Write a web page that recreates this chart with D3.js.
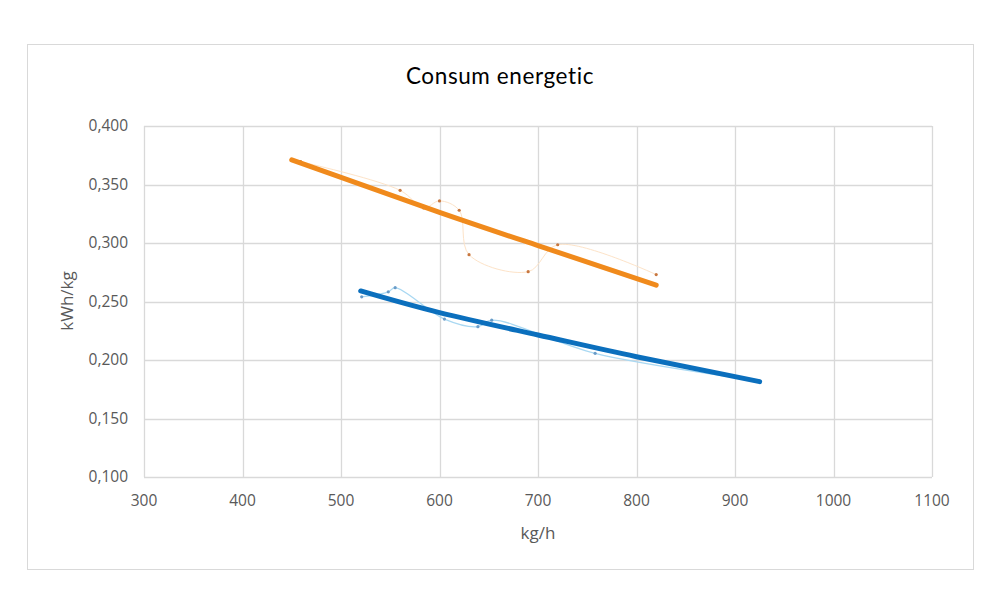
<!DOCTYPE html>
<html>
<head>
<meta charset="utf-8">
<script src="https://cdnjs.cloudflare.com/ajax/libs/d3/7.8.5/d3.min.js"></script>
<style>
    body { margin: 0; background: #fff; }
    svg text { font-family: "Open Sans", "Liberation Sans", sans-serif; }
</style>
</head>
<body>
<svg width="1000" height="614"></svg>
<script>
// measured points (kg/h, kWh/kg)
var orangeX = [450, 459, 560, 584, 600, 620, 630, 690, 720, 820];
var orangeY = [0.371, 0.3695, 0.345, 0.330, 0.336, 0.328, 0.290, 0.2755, 0.2985, 0.273];
var blueX = [521, 548, 555, 605, 639, 653, 758, 925];
var blueY = [0.254, 0.2583, 0.2618, 0.235, 0.2285, 0.234, 0.2057, 0.182];

// trend lines
var orangeTrendX = [450, 600, 700, 820];
var orangeTrendY = [0.371, 0.3262, 0.2978, 0.264];
var blueTrendX = [520, 600, 700, 800, 925];
var blueTrendY = [0.259, 0.2405, 0.2214, 0.2028, 0.1815];

var xTicks = [300, 400, 500, 600, 700, 800, 900, 1000, 1100];
var yTicks = [0.100, 0.150, 0.200, 0.250, 0.300, 0.350, 0.400];

var svg = d3.select("svg");
var plotLeft = 144, plotRight = 932, plotTop = 126, plotBottom = 477;

// chart frame
svg.append("rect")
    .attr("x", 27.5).attr("y", 44.5)
    .attr("width", 946).attr("height", 525)
    .attr("fill", "#fff")
    .attr("stroke", "#d9d9d9");

var x = d3.scaleLinear().domain([300, 1100]).range([plotLeft, plotRight]);
var y = d3.scaleLinear().domain([0.1, 0.4]).range([plotBottom, plotTop]);

var fmt = function(d) { return d3.format(".3f")(d).replace(".", ","); };

// grid
svg.append("g").selectAll("line").data(yTicks).enter().append("line")
    .attr("x1", plotLeft).attr("x2", plotRight)
    .attr("y1", function(d) { return Math.round(y(d)) + 0.5; })
    .attr("y2", function(d) { return Math.round(y(d)) + 0.5; })
    .attr("stroke", "#d9d9d9").attr("stroke-width", 1.3);
svg.append("g").selectAll("line").data(xTicks).enter().append("line")
    .attr("y1", plotTop).attr("y2", plotBottom)
    .attr("x1", function(d) { return Math.round(x(d)) + 0.5; })
    .attr("x2", function(d) { return Math.round(x(d)) + 0.5; })
    .attr("stroke", "#d9d9d9").attr("stroke-width", 1.3);

// tick labels
svg.append("g").selectAll("text").data(yTicks).enter().append("text")
    .attr("x", 128).attr("y", function(d) { return y(d); })
    .attr("dy", "0.35em")
    .attr("text-anchor", "end")
    .attr("font-size", 15.5).attr("fill", "#595959")
    .text(fmt);
svg.append("g").selectAll("text").data(xTicks).enter().append("text")
    .attr("x", function(d) { return x(d); }).attr("y", 506)
    .attr("text-anchor", "middle")
    .attr("font-size", 15.5).attr("fill", "#595959")
    .text(function(d) { return d; });

// titles
svg.append("text")
    .attr("x", 500).attr("y", 84)
    .attr("text-anchor", "middle")
    .attr("font-size", 22.5).attr("fill", "#000")
    .style("font-family", "Lato, 'Open Sans', sans-serif")
    .style("font-weight", 400)
    .style("letter-spacing", "0.6px")
    .text("Consum energetic");
svg.append("text")
    .attr("x", 538).attr("y", 539)
    .attr("text-anchor", "middle")
    .attr("font-size", 17).attr("fill", "#595959")
    .text("kg/h");
svg.append("text")
    .attr("transform", "translate(73,301) rotate(-90)")
    .attr("text-anchor", "middle")
    .attr("font-size", 17).attr("fill", "#595959")
    .text("kWh/kg");

function pairs(xs, ys) {
    return xs.map(function(d, i) { return [d, ys[i]]; });
}

var smooth = d3.line()
    .x(function(d) { return x(d[0]); })
    .y(function(d) { return y(d[1]); })
    .curve(d3.curveCatmullRom.alpha(0.5));
var trend = d3.line()
    .x(function(d) { return x(d[0]); })
    .y(function(d) { return y(d[1]); })
    .curve(d3.curveNatural);

// measured series: thin smoothed lines + small markers
var orangeData = pairs(orangeX, orangeY);
var blueData = pairs(blueX, blueY);

svg.append("path").datum(orangeData)
    .attr("d", smooth)
    .attr("fill", "none").attr("stroke", "#fde3c8").attr("stroke-width", 1);
svg.append("g").selectAll("circle").data(orangeData).enter().append("circle")
    .attr("cx", function(d) { return x(d[0]); })
    .attr("cy", function(d) { return y(d[1]); })
    .attr("r", 1.6).attr("fill", "#c8773f");

svg.append("path").datum(blueData)
    .attr("d", smooth)
    .attr("fill", "none").attr("stroke", "#a9d8f2").attr("stroke-width", 1.3);
svg.append("g").selectAll("circle").data(blueData).enter().append("circle")
    .attr("cx", function(d) { return x(d[0]); })
    .attr("cy", function(d) { return y(d[1]); })
    .attr("r", 1.6).attr("fill", "#6a9cc8");

// trend lines
svg.append("path").datum(pairs(orangeTrendX, orangeTrendY))
    .attr("d", trend)
    .attr("fill", "none").attr("stroke", "#f08a1c")
    .attr("stroke-width", 5).attr("stroke-linecap", "round");
svg.append("path").datum(pairs(blueTrendX, blueTrendY))
    .attr("d", trend)
    .attr("fill", "none").attr("stroke", "#0b6fbd")
    .attr("stroke-width", 5).attr("stroke-linecap", "round");
</script>
</body>
</html>
